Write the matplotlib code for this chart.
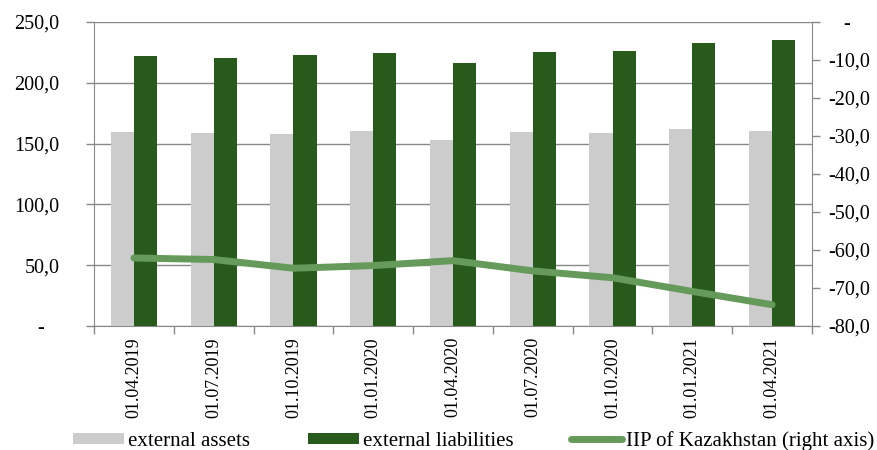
import matplotlib
matplotlib.use("Agg")
import matplotlib.pyplot as plt
import numpy as np
from matplotlib.ticker import FixedLocator, FuncFormatter

dates = ["01.04.2019", "01.07.2019", "01.10.2019", "01.01.2020", "01.04.2020",
         "01.07.2020", "01.10.2020", "01.01.2021", "01.04.2021"]
external_assets = [159.5, 158.5, 158.0, 160.4, 153.2, 159.5, 158.5, 161.8, 160.5]
external_liabilities = [221.8, 220.5, 222.9, 224.5, 216.4, 225.3, 225.8, 232.5, 235.0]
iip = [-62.1, -62.5, -64.8, -64.1, -62.8, -65.5, -67.3, -70.9, -74.4]

plt.rcParams['font.family'] = ['Liberation Serif', 'DejaVu Serif']

C_ASSET = "#cccccc"
C_LIAB = "#285a1c"
C_LINE = "#659a5b"
C_AX = "#888888"

fig = plt.figure(figsize=(8.77, 4.5), dpi=100)
ax = fig.add_axes([94/877, 1-326/450, (812-94)/877, (326-22)/450])
ax2 = ax.twinx()

x = np.arange(len(dates))
w = 0.29
ax.bar(x - w/2, external_assets, width=w, color=C_ASSET, zorder=3, label="external assets")
ax.bar(x + w/2, external_liabilities, width=w, color=C_LIAB, zorder=3, label="external liabilities")
ax2.plot(x, iip, color=C_LINE, lw=5, solid_capstyle="round", zorder=4,
         label="IIP of Kazakhstan (right axis)")

ax.set_xlim(-0.5, len(dates) - 0.5)
ax.set_ylim(0, 250)
ax2.set_ylim(-80, 0)

def fmt_left(v, p):
    return "-   " if abs(v) < 1e-9 else f"{v:.1f}".replace(".", ",")

def fmt_right(v, p):
    return "   -" if abs(v) < 1e-9 else f"{v:.1f}".replace(".", ",")

ax.yaxis.set_major_locator(FixedLocator(np.arange(0, 251, 50)))
ax.yaxis.set_major_formatter(FuncFormatter(fmt_left))
ax2.yaxis.set_major_locator(FixedLocator(np.arange(-80, 1, 10)))
ax2.yaxis.set_major_formatter(FuncFormatter(fmt_right))

ax.set_xticks(x)
ax.set_xticklabels(dates, rotation=90, fontsize=13, va="top", ha="center")
ax.set_xticks(np.arange(-0.5, len(dates), 1.0), minor=True)
ax.tick_params(axis="x", which="major", length=0, pad=8)
ax.tick_params(axis="x", which="minor", length=6, color=C_AX, width=1)

ax.grid(axis="y", color=C_AX, lw=1, zorder=0)
ax.set_axisbelow(True)

ax.tick_params(axis="y", length=6, color=C_AX, width=1, labelsize=14.5, pad=19)
ax2.tick_params(axis="y", length=6, color=C_AX, width=1, labelsize=14.5, pad=6)

for a in (ax, ax2):
    for s in a.spines.values():
        s.set_visible(False)
ax.spines["left"].set_visible(True)
ax.spines["left"].set_color(C_AX)
ax.spines["bottom"].set_visible(True)
ax.spines["bottom"].set_color(C_AX)
ax2.spines["right"].set_visible(True)
ax2.spines["right"].set_color(C_AX)

h1, l1 = ax.get_legend_handles_labels()
h2, l2 = ax2.get_legend_handles_labels()
fig.legend(h1 + h2, l1 + l2, loc="center left", bbox_to_anchor=(73/877, 1-441/450), ncol=3,
           frameon=False, fontsize=15, handlelength=2.45, handleheight=0.48,
           columnspacing=2.75, handletextpad=0.2, borderaxespad=0, borderpad=0)

fig.savefig("out.png", dpi=100)
